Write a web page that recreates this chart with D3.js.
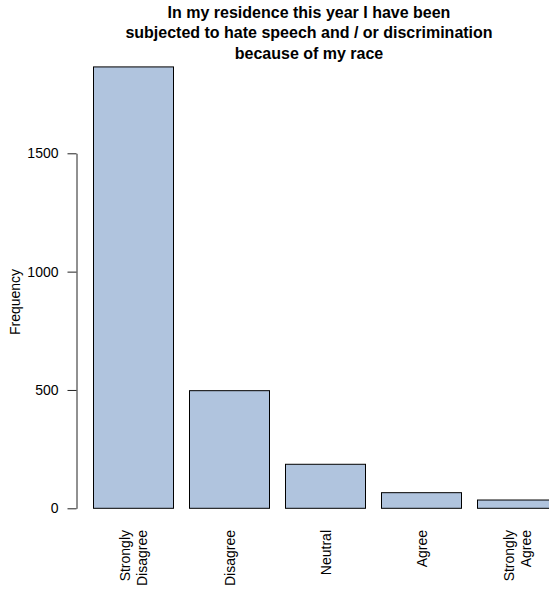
<!DOCTYPE html>
<html><head><meta charset="utf-8">
<script src="https://cdn.jsdelivr.net/npm/d3@7"></script>
<style>body{margin:0;background:#fff}svg{display:block}text{font-family:"Liberation Sans",Arial,Helvetica,sans-serif}</style>
</head><body>
<svg id="c" width="549" height="591"></svg>
<script>
const categories = [["Strongly","Disagree"],["Disagree"],["Neutral"],["Agree"],["Strongly","Agree"]];
const values = [1865, 497, 186, 66, 35];
const yTicks = [0, 500, 1000, 1500];
const titleLines = ["In my residence this year I have been","subjected to hate speech and / or discrimination","because of my race"];
const yLabel = "Frequency";

const svg = d3.select("#c");
const keys = categories.map(d => d.join(" "));
const x = d3.scaleBand().domain(keys).range([94, 558]).paddingInner(1/6).paddingOuter(0);
const y = d3.scaleLinear().domain([0, 1500]).range([508.3, 153.3]);

svg.append("g").selectAll("rect").data(values).join("rect")
  .attr("x", (d,i) => x(keys[i]) - 0.5)
  .attr("y", d => y(d))
  .attr("width", x.bandwidth())
  .attr("height", d => y(0) - y(d))
  .attr("fill", "#B0C4DE").attr("stroke", "#000").attr("stroke-width", 1);

const ax = svg.append("g").attr("transform", "translate(76.5,0)")
  .call(d3.axisLeft(y).tickValues(yTicks).tickSize(9).tickSizeOuter(0).tickPadding(9).tickFormat(d3.format("d")));
ax.selectAll("path,line").attr("stroke", "#222");
ax.selectAll("text").attr("font-size", 14).attr("fill", "#000").attr("font-family", "Liberation Sans, Arial, sans-serif");

const xl = svg.append("g").selectAll("text").data(categories).join("text")
  .attr("transform", (d,i) => `translate(${x(keys[i]) + x.bandwidth()/2 - 0.5},530) rotate(-90)`)
  .attr("text-anchor", "end").attr("font-size", 14).attr("fill", "#000");
xl.each(function(d){
  const t = d3.select(this);
  const n = d.length;
  d.forEach((s,j) => {
    t.append("tspan").attr("x", 0).attr("y", (j - (n-1)/2) * 16.6 + 5).text(s);
  });
});

svg.append("text").attr("transform", "translate(20,302) rotate(-90)")
  .attr("text-anchor", "middle").attr("font-size", 14).text(yLabel);

svg.append("g").selectAll("text").data(titleLines).join("text")
  .attr("x", 309).attr("y", (d,i) => 17.5 + i*20.5)
  .attr("text-anchor", "middle").attr("font-size", 16).attr("font-weight", "bold").text(d => d);
</script>
</body></html>
